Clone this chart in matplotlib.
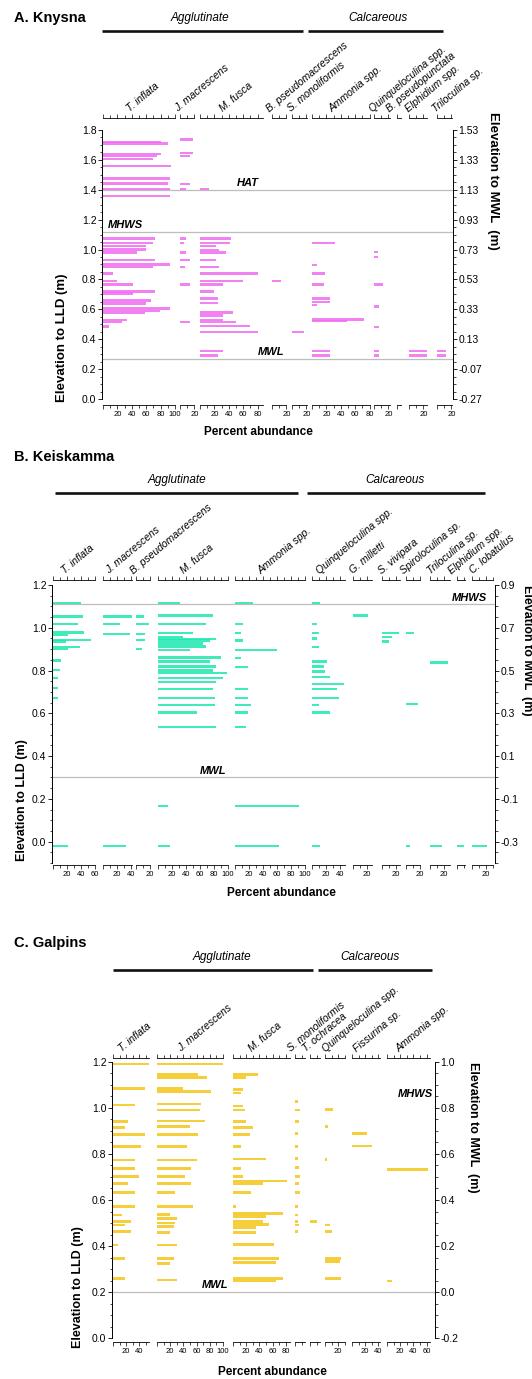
import numpy as np
import matplotlib
matplotlib.use('Agg')
import matplotlib.pyplot as plt
from matplotlib.ticker import MultipleLocator, FixedLocator, FuncFormatter
from matplotlib.lines import Line2D
from matplotlib import transforms

plt.rcParams['font.family'] = ['Liberation Sans', 'DejaVu Sans']

W, H = 532, 1379

group_names = ['Agglutinate', 'Calcareous']

# ---------------- A. Knysna ----------------
kn_species = ['T. inflata', 'J. macrescens', 'M. fusca', 'B. pseudomacrescens',
              'S. monoliformis', 'Ammonia spp.', 'Quinqueloculina spp.',
              'B. pseudopunctata', 'Elphidium spp.', 'Triloculina sp.']
kn_xmax = [100, 20, 88, 20, 21, 80, 22, 6, 25, 21]
# (elevation to LLD in m, percent abundance)
kn_t_inflata = [(1.72, 80), (1.71, 90), (1.64, 80), (1.626, 75), (1.606, 70), (1.56, 95),
                (1.476, 93), (1.443, 90), (1.405, 93), (1.36, 93), (1.075, 72), (1.045, 70),
                (1.023, 60), (1.0, 60), (0.98, 47), (0.93, 72), (0.90, 93), (0.885, 70),
                (0.84, 14), (0.79, 20), (0.767, 42), (0.72, 72), (0.706, 42), (0.66, 67),
                (0.64, 60), (0.605, 93), (0.59, 79), (0.577, 58), (0.53, 33), (0.515, 26),
                (0.485, 9)]
kn_j_macrescens = [(1.737, 18), (1.644, 18), (1.626, 14), (1.44, 14), (1.405, 9), (1.075, 8),
                   (1.045, 5), (0.98, 8), (0.93, 14), (0.885, 7), (0.767, 14), (0.517, 14)]
kn_m_fusca = [(1.405, 13), (1.075, 43), (1.045, 41), (1.023, 22), (0.997, 27), (0.98, 36),
              (0.93, 22), (0.885, 27), (0.84, 80), (0.79, 60), (0.767, 32), (0.72, 20),
              (0.672, 25), (0.644, 25), (0.579, 46), (0.56, 32), (0.53, 32), (0.517, 50),
              (0.487, 69), (0.45, 80), (0.322, 32), (0.29, 25)]
kn_b_pseudomacrescens = [(0.79, 12)]
kn_s_monoliformis = [(0.45, 16)]
kn_ammonia = [(1.045, 32), (0.897, 7), (0.84, 18), (0.767, 16), (0.672, 25), (0.65, 25),
              (0.628, 7), (0.532, 72), (0.52, 48), (0.322, 25), (0.29, 25)]
kn_quinqueloculina = [(0.985, 5), (0.952, 5), (0.767, 12), (0.62, 7), (0.483, 7),
                      (0.322, 7), (0.29, 7)]
kn_b_pseudopunctata = []
kn_elphidium = [(0.322, 27), (0.29, 27)]
kn_triloculina = [(0.322, 12), (0.29, 12)]
kn_data = [kn_t_inflata, kn_j_macrescens, kn_m_fusca, kn_b_pseudomacrescens,
           kn_s_monoliformis, kn_ammonia, kn_quinqueloculina, kn_b_pseudopunctata,
           kn_elphidium, kn_triloculina]
kn_levels = [('HAT', 1.40), ('MHWS', 1.12), ('MWL', 0.27)]

# ---------------- B. Keiskamma ----------------
ks_species = ['T. inflata', 'J. macrescens', 'B. pseudomacrescens', 'M. fusca',
              'Ammonia spp.', 'Quinqueloculina spp.', 'G. milletti', 'S. vivipara',
              'Spiroloculina sp.', 'Triloculina sp.', 'Elphidium spp.', 'C. lobatulus']
ks_xmax = [60, 42, 20, 100, 100, 47, 27, 26, 20, 28, 11, 30]
ks_t_inflata = [(1.114, 40), (1.052, 43), (1.016, 36), (0.977, 45), (0.965, 21), (0.943, 55),
                (0.935, 19), (0.909, 38), (0.90, 21), (0.846, 12), (0.803, 10), (0.764, 7),
                (0.717, 7), (0.67, 7), (-0.02, 21)]
ks_j_macrescens = [(1.052, 43), (1.016, 24), (0.97, 38), (-0.02, 33)]
ks_b_pseudomacrescens = [(1.052, 11), (1.016, 18), (0.97, 13), (0.943, 13), (0.90, 9)]
ks_m_fusca = [(1.114, 31), (1.057, 79), (1.016, 69), (0.974, 50), (0.958, 36), (0.948, 83),
              (0.94, 74), (0.927, 64), (0.912, 69), (0.896, 45), (0.86, 90), (0.842, 74),
              (0.818, 83), (0.80, 79), (0.788, 98), (0.764, 93), (0.745, 83), (0.714, 79),
              (0.67, 81), (0.64, 81), (0.603, 55), (0.535, 83), (0.167, 14), (-0.02, 17)]
ks_ammonia = [(1.114, 26), (1.016, 12), (0.974, 9), (0.94, 12), (0.896, 60), (0.857, 9),
              (0.815, 19), (0.714, 19), (0.67, 19), (0.64, 23), (0.603, 19), (0.535, 16),
              (0.167, 91), (-0.02, 63)]
ks_quinqueloculina = [(1.114, 12), (1.016, 7), (0.974, 10), (0.95, 7), (0.909, 10),
                      (0.842, 21), (0.818, 17), (0.795, 19), (0.77, 26), (0.737, 46),
                      (0.714, 36), (0.67, 38), (0.64, 10), (0.603, 26), (-0.02, 12)]
ks_g_milletti = [(1.057, 21)]
ks_s_vivipara = [(0.974, 24), (0.958, 14), (0.935, 10)]
ks_spiroloculina = [(0.974, 12), (0.644, 17), (-0.02, 6)]
ks_triloculina = [(0.837, 26), (-0.02, 17)]
ks_elphidium = [(-0.02, 10)]
ks_c_lobatulus = [(-0.02, 21)]
ks_data = [ks_t_inflata, ks_j_macrescens, ks_b_pseudomacrescens, ks_m_fusca, ks_ammonia,
           ks_quinqueloculina, ks_g_milletti, ks_s_vivipara, ks_spiroloculina,
           ks_triloculina, ks_elphidium, ks_c_lobatulus]
ks_levels = [('MHWS', 1.11), ('MWL', 0.30)]

# ---------------- C. Galpins ----------------
gp_species = ['T. inflata', 'J. macrescens', 'M. fusca', 'S. monoliformis', 'T. ochracea',
              'Quinqueloculina spp.', 'Fissurina sp.', 'Ammonia spp.']
gp_xmax = [55, 100, 86, 15, 15, 30, 42, 65]
gp_t_inflata = [(1.19, 55), (1.085, 48), (1.013, 33), (0.94, 23), (0.916, 18), (0.885, 48),
                (0.832, 43), (0.774, 33), (0.738, 33), (0.701, 40), (0.672, 23), (0.632, 33),
                (0.571, 33), (0.535, 13), (0.506, 28), (0.491, 18), (0.462, 28), (0.404, 8),
                (0.346, 18), (0.259, 18)]
gp_j_macrescens = [(1.19, 100), (1.146, 62), (1.132, 75), (1.085, 40), (1.071, 82),
                   (1.017, 67), (0.991, 65), (0.943, 72), (0.919, 50), (0.885, 62),
                   (0.832, 45), (0.774, 60), (0.738, 52), (0.701, 42), (0.672, 52),
                   (0.632, 28), (0.571, 55), (0.538, 20), (0.52, 30), (0.501, 28),
                   (0.484, 25), (0.458, 20), (0.404, 30), (0.346, 25), (0.325, 20),
                   (0.252, 30)]
gp_m_fusca = [(1.146, 38), (1.132, 20), (1.081, 15), (1.064, 12), (1.009, 15), (0.991, 18),
              (0.94, 20), (0.916, 30), (0.885, 25), (0.832, 12), (0.778, 50), (0.738, 12),
              (0.701, 15), (0.683, 82), (0.672, 45), (0.632, 28), (0.571, 5), (0.542, 75),
              (0.528, 50), (0.506, 45), (0.494, 55), (0.481, 35), (0.459, 35), (0.407, 62),
              (0.346, 70), (0.329, 65), (0.259, 75), (0.249, 65)]
gp_s_monoliformis = [(1.028, 5), (0.991, 8), (0.94, 6), (0.89, 5), (0.832, 5), (0.781, 5),
                     (0.742, 6), (0.701, 7), (0.672, 6), (0.633, 8), (0.571, 4), (0.535, 5),
                     (0.506, 5), (0.491, 6), (0.462, 5)]
gp_t_ochracea = [(0.506, 10)]
gp_quinqueloculina = [(0.994, 12), (0.919, 5), (0.777, 3), (0.491, 8), (0.462, 10),
                      (0.346, 25), (0.332, 22), (0.259, 25)]
gp_fissurina = [(0.89, 22), (0.835, 30)]
gp_ammonia = [(0.733, 62), (0.249, 7)]
gp_data = [gp_t_inflata, gp_j_macrescens, gp_m_fusca, gp_s_monoliformis, gp_t_ochracea,
           gp_quinqueloculina, gp_fissurina, gp_ammonia]
gp_levels = [('MHWS', 1.03), ('MWL', 0.20)]

fig = plt.figure(figsize=(W / 100, H / 100), dpi=100)
fig.patch.set_facecolor('white')


def rect(x, y, w, h):
    return [x / W, 1 - (y + h) / H, w / W, h / H]


def fpt(x, y):
    return x / W, 1 - y / H


def pct_fmt(v, pos):
    return '' if abs(v) < 1e-9 else '%d' % round(v)


def draw_panel(title, title_y, group_layout, group_y, species, xmax, data, col_left, scale,
               box, ylim, lo, off, rfmt, levels, level_layout, color, bar_h,
               ylab_l, ylab_r, pa_xy):
    x0, y0, x1, y1 = box
    # main elevation axis (left: LLD)
    ax = fig.add_axes(rect(x0, y0, x1 - x0, y1 - y0))
    ax.set_xlim(0, 1)
    ax.set_ylim(ylim)
    ax.patch.set_visible(False)
    for s in ('top', 'bottom', 'right'):
        ax.spines[s].set_visible(False)
    top_tick = np.floor(ylim[1] * 5 + 1e-6) / 5
    major = np.round(np.arange(0, top_tick + 1e-6, 0.2), 2)
    minor = np.round(np.arange(lo, top_tick + 1e-6, 0.05), 3)
    ax.spines['left'].set_bounds(lo, top_tick)
    ax.spines['left'].set_linewidth(0.7)
    ax.set_xticks([])
    ax.yaxis.set_major_locator(FixedLocator(major))
    ax.yaxis.set_minor_locator(FixedLocator(minor))
    ax.yaxis.set_major_formatter(FuncFormatter(lambda v, p: '%.1f' % (0.0 if abs(v) < 1e-9 else v)))
    ax.tick_params(axis='y', which='major', length=3, width=0.6, labelsize=7.5, pad=1)
    ax.tick_params(axis='y', which='minor', length=1.8, width=0.5)

    # right axis: MWL
    ax2 = ax.twinx()
    ax2.set_ylim(ylim[0] - off, ylim[1] - off)
    for s in ('top', 'bottom', 'left'):
        ax2.spines[s].set_visible(False)
    ax2.spines['right'].set_bounds(lo - off, top_tick - off)
    ax2.spines['right'].set_linewidth(0.7)
    ax2.yaxis.set_major_locator(FixedLocator(major - off))
    ax2.yaxis.set_minor_locator(FixedLocator(minor - off))
    ax2.yaxis.set_major_formatter(FuncFormatter(lambda v, p: rfmt % (0.0 if abs(v) < 1e-9 else v)))
    ax2.tick_params(axis='y', which='major', length=3, width=0.6, labelsize=7.5, pad=1)
    ax2.tick_params(axis='y', which='minor', length=1.8, width=0.5)

    # tidal reference levels
    tr = transforms.blended_transform_factory(ax.transAxes, ax.transData)
    for (name, lev), (tx, ha, line) in zip(levels, level_layout):
        if line:
            ax.axhline(lev, color='#bdbdbd', lw=0.9, zorder=0)
        ax.annotate(name, xy=((tx - x0) / (x1 - x0), lev), xycoords=tr,
                    xytext=(0, 1.2), textcoords='offset points', ha=ha, va='bottom',
                    fontsize=8, fontweight='bold', style='italic')

    # species columns
    for name, m, d, cl in zip(species, xmax, data, col_left):
        w = m * scale
        cax = fig.add_axes(rect(cl, y0, w, y1 - y0))
        cax.patch.set_visible(False)
        cax.set_xlim(0, m)
        cax.set_ylim(ylim)
        if d:
            e, p = zip(*d)
            cax.barh(e, p, height=bar_h, color=color, alpha=0.85, lw=0, align='center')
        cax.spines['left'].set_visible(False)
        cax.spines['right'].set_visible(False)
        cax.spines['top'].set_linewidth(0.6)
        cax.spines['bottom'].set_linewidth(0.6)
        cax.set_yticks([])
        cax.xaxis.set_major_locator(MultipleLocator(20))
        cax.xaxis.set_minor_locator(MultipleLocator(10))
        cax.xaxis.set_major_formatter(FuncFormatter(pct_fmt))
        cax.tick_params(axis='x', which='both', top=True, bottom=True, direction='out',
                        width=0.5, labelsize=5.5, pad=1.5)
        cax.tick_params(axis='x', which='major', length=3)
        cax.tick_params(axis='x', which='minor', length=2)
        cax.annotate(name, xy=(0.5, 1), xycoords='axes fraction', xytext=(-6.5, 4),
                     textcoords='offset points', rotation=40, rotation_mode='anchor',
                     ha='left', va='baseline', fontsize=7.5, style='italic')

    # headers
    fig.text(*fpt(14, title_y), title, fontsize=10.5, fontweight='bold', va='center', ha='left')
    for gname, (gx0, gx1, gtx) in zip(group_names, group_layout):
        fig.add_artist(Line2D([gx0 / W, gx1 / W], [1 - group_y / H] * 2,
                              color='#111111', lw=1.9, solid_capstyle='butt'))
        fig.text(*fpt(gtx, group_y - 13), gname, fontsize=8.5,
                 style='italic', ha='center', va='center')
    # axis titles
    fig.text(*fpt(*ylab_l[:2]), 'Elevation to LLD (m)', rotation=90, ha='center',
             va='center', fontsize=ylab_l[2], fontweight='bold')
    fig.text(*fpt(*ylab_r[:2]), 'Elevation to MWL  (m)', rotation=270, ha='center',
             va='center', fontsize=ylab_r[2], fontweight='bold')
    fig.text(*fpt(*pa_xy), 'Percent abundance', ha='center', va='center',
             fontsize=8.5, fontweight='bold')


draw_panel('A. Knysna', 18, [(102, 303, 200), (308, 443, 378)], 31,
           kn_species, kn_xmax, kn_data,
           [103, 180, 200, 272, 292, 312, 374, 397, 409, 437], 0.72,
           (102, 118, 453, 405), (-0.04, 1.88), 0.0, 0.27, '%.2f',
           kn_levels, [(237, 'left', True), (108, 'left', True), (258, 'left', True)],
           '#f06cf0', 0.016, (62, 338, 9.5), (493, 181, 9.5), (258, 432))

draw_panel('B. Keiskamma', 457, [(55, 298, 177), (307, 485, 395)], 493,
           ks_species, ks_xmax, ks_data,
           [53, 103, 136, 158, 235, 312, 353, 382, 406, 430, 457, 472], 0.7,
           (52, 580, 495, 865), (-0.109, 1.223), -0.1, 0.30, '%.1f',
           ks_levels, [(487, 'right', True), (200, 'left', True)],
           '#1de8b0', 0.011, (22, 800, 9), (527, 650, 9), (281, 893))

draw_panel('C. Galpins', 943, [(113, 313, 222), (318, 432, 370)], 970,
           gp_species, gp_xmax, gp_data,
           [113, 157, 233, 295, 310, 325, 352, 387], 0.66,
           (112, 1058, 435, 1342), (-0.017, 1.217), 0.0, 0.20, '%.1f',
           gp_levels, [(433, 'right', False), (202, 'left', True)],
           '#f5c518', 0.011, (78, 1287, 9), (473, 1127, 9), (272, 1372))

fig.savefig('out.png', dpi=100, facecolor='white')
